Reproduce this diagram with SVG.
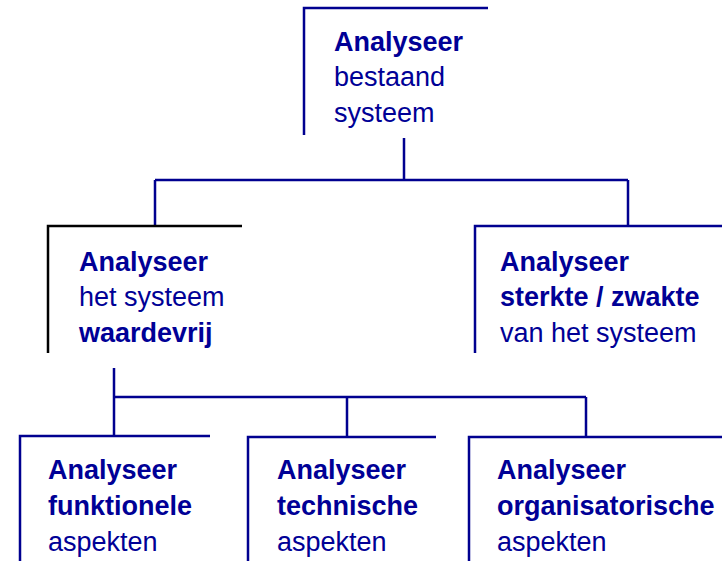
<svg xmlns="http://www.w3.org/2000/svg" width="722" height="561" viewBox="0 0 722 561">
<style>
.t{font-family:"Liberation Sans",Arial,sans-serif;font-size:27px;fill:#000096}
.b{font-weight:bold}
.ln{stroke:#000090;stroke-width:2.5;fill:none}
.k{stroke:#000000;stroke-width:2.5;fill:none}
</style>
<rect width="722" height="561" fill="#ffffff"/>
<g id="connectors">
<path class="ln" d="M404,138V180M155,180H628M155,180V226M628,180V226"/>
<path class="ln" d="M114,368V436M114,397H586M347,397V436M586,397V436"/>
</g>
<g id="n1">
<path class="ln" d="M304,135V8H488"/>
<text class="t" x="334" y="51"><tspan class="b">Analyseer</tspan><tspan x="334" y="86">bestaand</tspan><tspan x="334" y="122">systeem</tspan></text>
</g>
<g id="n2">
<path class="k" d="M48,353V226H242"/>
<text class="t" x="79" y="271"><tspan class="b">Analyseer</tspan><tspan x="79" y="306">het systeem</tspan><tspan class="b" x="79" y="342">waardevrij</tspan></text>
</g>
<g id="n3">
<path class="ln" d="M475,353V226H722"/>
<text class="t" x="500" y="271"><tspan class="b">Analyseer</tspan><tspan class="b" x="500" y="306">sterkte / zwakte</tspan><tspan x="500" y="342">van het systeem</tspan></text>
</g>
<g id="n4">
<path class="ln" d="M20,561V436H210"/>
<text class="t" x="48" y="479"><tspan class="b">Analyseer</tspan><tspan class="b" x="48" y="515">funktionele</tspan><tspan x="48" y="551">aspekten</tspan></text>
</g>
<g id="n5">
<path class="ln" d="M248,561V437H436"/>
<text class="t" x="277" y="479"><tspan class="b">Analyseer</tspan><tspan class="b" x="277" y="515">technische</tspan><tspan x="277" y="551">aspekten</tspan></text>
</g>
<g id="n6">
<path class="ln" d="M469,561V437H722"/>
<text class="t" x="497" y="479"><tspan class="b">Analyseer</tspan><tspan class="b" x="497" y="515">organisatorische</tspan><tspan x="497" y="551">aspekten</tspan></text>
</g>
</svg>
